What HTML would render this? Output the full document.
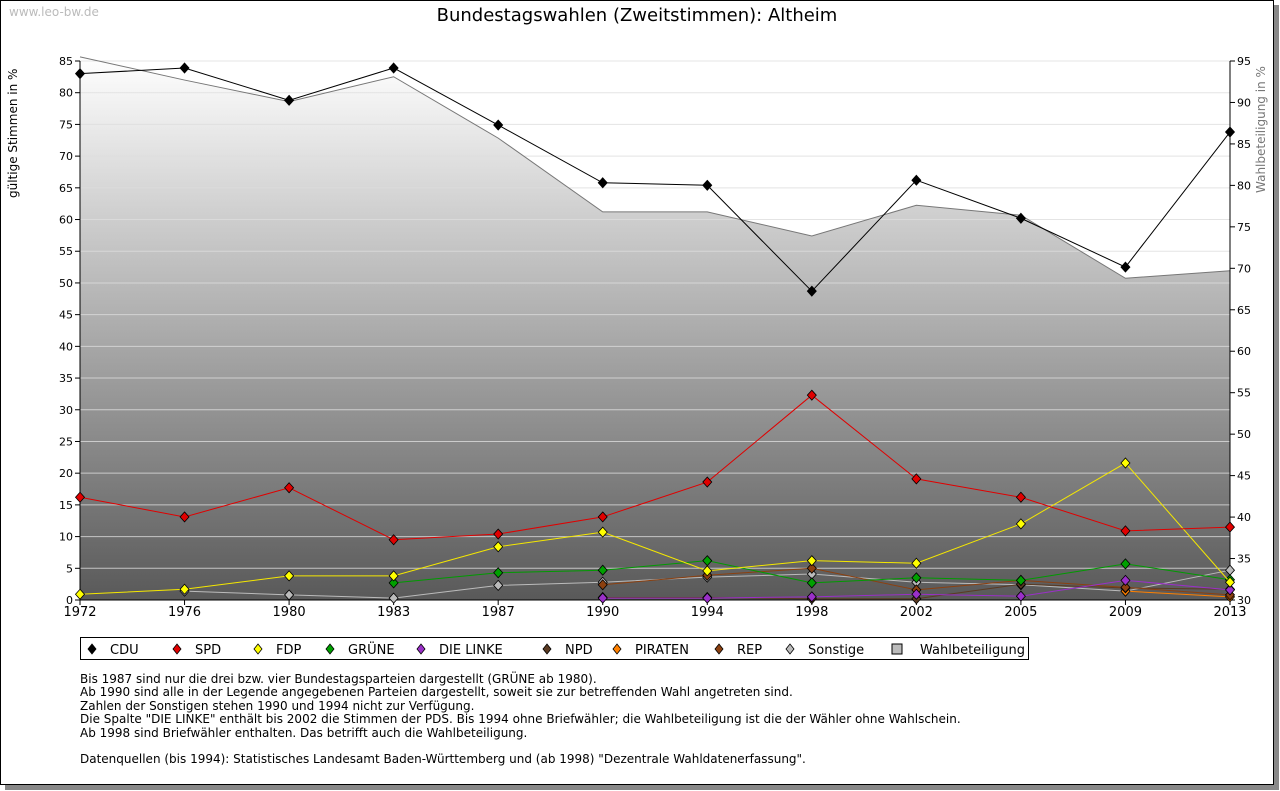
<!DOCTYPE html>
<html><head><meta charset="utf-8">
<style>
body{margin:0;background:#fff;font-family:"DejaVu Sans","Liberation Sans",sans-serif;}
#page{position:absolute;left:0;top:0;width:1274px;height:785px;border:1px solid #000;box-sizing:border-box;background:#fff;box-shadow:5px 5px 0 #888;}
svg{position:absolute;left:0;top:0}
.note{position:absolute;left:80px;top:673px;font-size:12px;line-height:13.4px;color:#000;white-space:pre}
</style></head><body>
<div id="page"></div>
<svg id="chart" width="1280" height="791"></svg>
<div class="note">Bis 1987 sind nur die drei bzw. vier Bundestagsparteien dargestellt (GRÜNE ab 1980).
Ab 1990 sind alle in der Legende angegebenen Parteien dargestellt, soweit sie zur betreffenden Wahl angetreten sind.
Zahlen der Sonstigen stehen 1990 und 1994 nicht zur Verfügung.
Die Spalte "DIE LINKE" enthält bis 2002 die Stimmen der PDS. Bis 1994 ohne Briefwähler; die Wahlbeteiligung ist die der Wähler ohne Wahlschein.
Ab 1998 sind Briefwähler enthalten. Das betrifft auch die Wahlbeteiligung.

Datenquellen (bis 1994): Statistisches Landesamt Baden-Württemberg und (ab 1998) "Dezentrale Wahldatenerfassung".</div>
<script>
const years=["1972","1976","1980","1983","1987","1990","1994","1998","2002","2005","2009","2013"];
const cdu=[83,83.9,78.8,83.9,74.9,65.8,65.4,48.7,66.2,60.2,52.5,73.8];
const spd=[16.2,13.1,17.7,9.5,10.4,13.1,18.6,32.3,19.1,16.2,10.9,11.5];
const fdp=[0.9,1.7,3.8,3.8,8.4,10.7,4.6,6.2,5.8,12.0,21.6,2.8];
const gruene=[null,null,null,2.7,4.3,4.7,6.2,2.7,3.5,3.1,5.7,3.2];
const linke=[null,null,null,null,null,0.3,0.3,0.5,0.9,0.6,3.1,1.6];
const npd=[null,null,null,null,null,0.4,0.4,0.2,0.2,2.5,1.9,1.7];
const piraten=[null,null,null,null,null,null,null,null,null,null,1.4,0.5];
const rep=[null,null,null,null,null,2.4,3.9,5.0,1.6,3.1,2.0,0.8];
const sonstige=[null,1.4,0.8,0.3,2.3,2.8,3.6,4.1,2.8,2.4,1.4,4.7];
const turnout=[95.5,92.7,90.1,93.1,85.7,76.8,76.8,73.9,77.6,76.4,68.8,69.7];
const leftTicks=[0,5,10,15,20,25,30,35,40,45,50,55,60,65,70,75,80,85];
const rightTicks=[30,35,40,45,50,55,60,65,70,75,80,85,90,95];

const NS="http://www.w3.org/2000/svg";
const svg=document.getElementById('chart');
const X0=80,X1=1230,Y0=600,Y1=61;
const x=i=>X0+i*(X1-X0)/(years.length-1);
const y=v=>Y0-v*(Y0-Y1)/85;
const yr=v=>Y0-(v-30)*(Y0-Y1)/65;
function el(t,a,p){const e=document.createElementNS(NS,t);for(const k in a)e.setAttribute(k,a[k]);(p||svg).appendChild(e);return e;}
function txt(s,a){const e=el('text',a);e.textContent=s;return e;}

const defs=el('defs',{});
const g=el('linearGradient',{id:'gr',x1:0,y1:0,x2:0,y2:1},defs);
el('stop',{offset:0,'stop-color':'#ffffff'},g);el('stop',{offset:1,'stop-color':'#595959'},g);

// title
let t=txt('Bundestagswahlen (Zweitstimmen): Altheim',{x:637,y:21,'text-anchor':'middle','font-size':18,fill:'#000'});

t=txt('www.leo-bw.de',{x:9,y:16,'font-size':12,fill:'#bbb'});


// turnout area
let d='M'+x(0)+','+Y0;turnout.forEach((v,i)=>d+=' L'+x(i)+','+yr(v));d+=' L'+x(years.length-1)+','+Y0+' Z';
let a=el('path',{d:d,fill:'url(#gr)',stroke:'none'});

// grid
leftTicks.forEach(v=>{if(v>0){const l=el('line',{x1:X0,x2:X1,y1:y(v),y2:y(v),stroke:'#ddd','stroke-width':1,'stroke-opacity':0.8});}});
d='';turnout.forEach((v,i)=>d+=(i?' L':'M')+x(i)+','+yr(v));
a=el('path',{d:d,fill:'none',stroke:'#777','stroke-width':1});


// axes
el('line',{x1:X0,x2:X0,y1:Y1,y2:Y0,stroke:'#000'});
el('line',{x1:X1,x2:X1,y1:Y1,y2:Y0,stroke:'#000'});
el('line',{x1:X0,x2:X1,y1:Y0,y2:Y0,stroke:'#000'});
leftTicks.forEach(v=>{el('line',{x1:X0-5,x2:X0,y1:y(v),y2:y(v),stroke:'#000'});
 const e=txt(String(v),{x:X0-7,y:y(v)+4,'text-anchor':'end','font-size':11});
 });
rightTicks.forEach(v=>{el('line',{x1:X1,x2:X1+5,y1:yr(v),y2:yr(v),stroke:'#000'});
 const e=txt(String(v),{x:X1+7,y:yr(v)+4,'font-size':11});
 });
years.forEach((s,i)=>{el('line',{x1:x(i),x2:x(i),y1:Y0,y2:Y0+5,stroke:'#000'});
 const e=txt(s,{x:x(i),y:Y0+16,'text-anchor':'middle','font-size':13});
 });
t=txt('gültige Stimmen in %',{x:0,y:0,'font-size':12,transform:'translate(17,198) rotate(-90)'});

t=txt('Wahlbeteiligung in %',{x:0,y:0,'font-size':12,fill:'#777',transform:'translate(1265,193) rotate(-90)'});


const series=[["CDU",cdu,"#000","#000"],["SPD",spd,"#e00000","#e00000"],["FDP",fdp,"#f5e800","#ffff00"],["GRÜNE",gruene,"#009a00","#00a000"],["DIE LINKE",linke,"#9a30c8","#9a30c8"],["NPD",npd,"#5a3a22","#5a3a22"],["PIRATEN",piraten,"#ff8000","#ff8000"],["REP",rep,"#8b4010","#8b4010"],["Sonstige",sonstige,"#bbb","#bbb"]];
const order=[8,6,5,7,4,3,2,1,0];
order.forEach(si=>{const [n,vals,lc,fc]=series[si];
 let d='',started=false;
 vals.forEach((v,i)=>{if(v==null){started=false;return;}d+=(started?' L':' M')+x(i)+','+y(v);started=true;});
 const p=el('path',{d:d,fill:'none',stroke:lc,'stroke-width':1});
 
 
 vals.forEach((v,i)=>{if(v==null)return;const cx=x(i),cy=y(v);
  const m=el('path',{d:`M${cx},${cy-5} L${cx+4.5},${cy} L${cx},${cy+5} L${cx-4.5},${cy} Z`,fill:fc,stroke:'#000','stroke-width':0.8});
  
  });
});

// legend
const lg=el('g',{});

el('rect',{x:80.5,y:637.5,width:948,height:22,fill:'#fff',stroke:'#000'},lg);
const lx=[92,177,258,330,421,547,617,719,790,897];
series.forEach((s,i)=>{const cx=lx[i],cy=649;
 el('path',{d:`M${cx},${cy-5} L${cx+4},${cy} L${cx},${cy+5} L${cx-4},${cy} Z`,fill:s[3],stroke:'#000','stroke-width':0.8},lg);
 const e=txt(s[0],{x:cx+18,y:cy+5,'font-size':13},lg);
 });
el('rect',{x:lx[9]-5,y:644,width:10,height:10,fill:'#bbb',stroke:'#000'},lg);
const e=txt('Wahlbeteiligung',{x:lx[9]+23,y:654,'font-size':13},lg);

</script>
</body></html>
